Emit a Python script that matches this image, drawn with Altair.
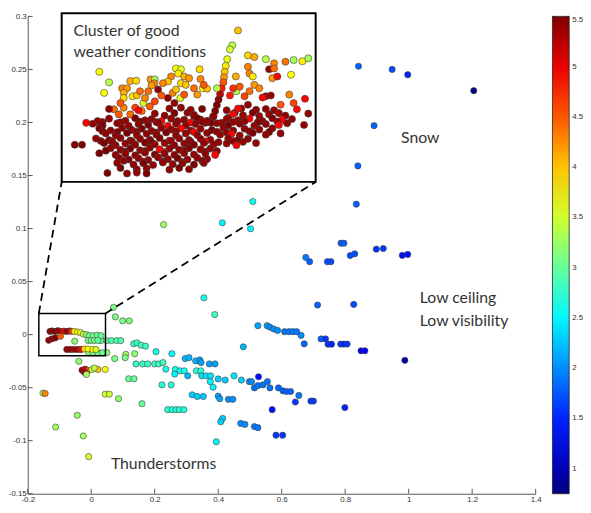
import altair as alt
import pandas as pd

# ---------------- main scatter (x, y, colour value) ----------------
main_x = [0.842, 0.948, 0.997, 1.205, 0.891, 0.840, 0.835, 0.787, 0.796, 0.816, 0.830, 0.898, 0.920, 0.980, 0.997,
          0.676, 0.688, 0.744, 0.755, 0.713, 0.827, 0.661, 0.671, 0.724, 0.738, 0.746, 0.757, 0.786, 0.796, 0.806,
          0.850, 0.862, 0.988, 0.654, 0.692, 0.700, 0.799,
          0.228, 0.509, 0.413, 0.502, 0.355, 0.389, 0.070, 0.076, 0.099, 0.120,
          0.525, 0.554, 0.563, 0.575, 0.587, 0.609, 0.623, 0.635, 0.647, 0.479,
          0.031, 0.049, 0.064, 0.080, 0.093, 0.134, 0.144, 0.157, 0.171, 0.204, 0.254, 0.109, 0.137, 0.049,
          0.074, 0.107, -0.039,
          0.141, 0.162, 0.178, 0.200, 0.212, 0.226, 0.235, 0.296, 0.308, 0.329, 0.342, 0.346, 0.372, 0.390,
          0.265, 0.280, 0.293, 0.304, 0.331, 0.345, 0.263, 0.348, 0.362, 0.376, 0.375, 0.384, 0.400, 0.422,
          0.450, 0.473, 0.498, 0.505, 0.527, 0.514, 0.525, 0.541, 0.555, 0.563, 0.590, 0.604, 0.615, 0.628,
          0.643, 0.318, 0.334, 0.353, 0.400, 0.405, 0.432, 0.446, 0.223, 0.252, 0.241, 0.255, 0.267, 0.278,
          0.292, 0.414, 0.408, 0.471, 0.484, 0.514, 0.525, 0.570, 0.582, 0.603, 0.394,
          0.118, 0.135, 0.160, 0.044, 0.057, 0.086, -0.044, -0.112, -0.025, -0.008, -0.152, -0.145,
          -0.029, -0.019, -0.010, -0.021, 0.002, 0.021, 0.044, -0.015, 0.010,
          -0.008, 0.005, 0.021, 0.035,
          -0.130, -0.124, -0.114, -0.105, -0.096, -0.086, -0.077, -0.068, -0.062, -0.053, -0.043, -0.034,
          -0.025, -0.015, -0.006, 0.006, 0.019, 0.031,
          -0.134, -0.124, -0.113, -0.097, -0.010, 0.000, 0.010, 0.021, -0.052,
          -0.077, -0.067, -0.057, -0.046, -0.036, -0.031, -0.021, -0.010, 0.005, 0.015]
main_y = [0.253, 0.250, 0.245, 0.230, 0.197, 0.159, 0.123, 0.0862, 0.0862, 0.0746, 0.0762, 0.0806, 0.0812, 0.0747, 0.0756,
          0.0728, 0.0688, 0.0688, 0.0688, 0.0279, 0.0285, -0.0007, -0.0087, -0.004, -0.004, -0.009, -0.009, -0.0089, -0.0089, -0.0089,
          -0.0152, -0.0152, -0.0242, -0.0573, -0.0626, -0.0626, -0.0688,
          0.1038, 0.1255, 0.1054, 0.0998, 0.0347, 0.0189, 0.0257, 0.0167, 0.013, 0.013,
          0.0084, 0.0084, 0.0071, 0.0053, 0.004, 0.0028, 0.0028, 0.0028, 0.0028, -0.0115,
          -0.0056, -0.0056, -0.0056, -0.0056, -0.0056, -0.0087, -0.0077, -0.0099, -0.0109, -0.0161, -0.018, -0.0186, -0.018, -0.017,
          -0.0226, -0.0217, -0.0251,
          -0.0276, -0.0276, -0.0276, -0.0276, -0.0276, -0.0263, -0.0325, -0.0226, -0.0217, -0.0248, -0.0239, -0.0263, -0.0276, -0.0276,
          -0.0328, -0.0341, -0.0341, -0.0388, -0.0341, -0.0341, -0.0372, -0.0388, -0.0388, -0.0388, -0.0443, -0.0496, -0.0418, -0.0428,
          -0.0388, -0.0428, -0.0443, -0.0443, -0.0397, -0.0502, -0.048, -0.0474, -0.0443, -0.0502, -0.0502, -0.053, -0.0536, -0.0536,
          -0.0635, -0.0567, -0.0583, -0.0583, -0.058, -0.0604, -0.061, -0.061, -0.0474, -0.0474, -0.0707, -0.0707, -0.0707, -0.0707,
          -0.0707, -0.079, -0.0821, -0.0837, -0.0846, -0.0867, -0.0877, -0.0707, -0.0948, -0.0948, -0.101,
          -0.0416, -0.0416, -0.0651, -0.0561, -0.0561, -0.0604, -0.076, -0.0871, -0.0955, -0.115, -0.0551, -0.0555,
          -0.0335, -0.0325, -0.0338, -0.0356, -0.0328, -0.0328, -0.0328, -0.0375, -0.0315,
          -0.017, -0.017, -0.017, -0.017,
          0.003, 0.0035, 0.003, 0.0037, 0.003, 0.0033, 0.003, 0.0035, 0.003, 0.003, 0.0025, 0.002,
          0.0005, 0.0, -0.001, -0.001, -0.0005, -0.001,
          -0.0053, -0.004, -0.0031, -0.0016, -0.0055, -0.0055, -0.0055, -0.0055, -0.0062,
          -0.014, -0.014, -0.014, -0.014, -0.014, -0.014, -0.0135, -0.0135, -0.014, -0.014]
main_c = [1.8, 1.7, 1.5, 0.8, 1.8, 1.8, 1.8, 1.8, 1.8, 1.7, 1.7, 1.6, 1.6, 1.4, 1.4,
          1.9, 1.8, 1.7, 1.7, 1.8, 1.7, 2.0, 1.8, 1.8, 1.6, 1.6, 1.5, 1.6, 1.5, 1.6,
          1.3, 1.3, 0.9, 1.9, 1.6, 1.6, 1.5,
          3.3, 2.6, 2.5, 2.5, 2.6, 2.8, 3.1, 3.1, 3.1, 3.1,
          2.1, 2.1, 2.0, 2.0, 2.0, 1.9, 1.9, 1.9, 1.9, 2.2,
          3.0, 3.0, 2.9, 2.9, 2.9, 2.8, 2.8, 2.8, 2.8, 2.6, 2.5, 3.3, 3.2, 3.2,
          3.1, 3.1, 3.2,
          2.8, 2.8, 2.8, 2.8, 2.8, 2.8, 2.6, 2.2, 2.2, 2.2, 2.1, 2.1, 2.1, 2.1,
          2.6, 2.6, 2.6, 2.2, 2.7, 2.7, 2.5, 2.4, 2.4, 2.4, 2.5, 2.5, 2.3, 2.3,
          2.4, 2.3, 2.0, 2.0, 1.4, 1.9, 1.9, 1.9, 1.9, 1.9, 1.8, 1.8, 1.8, 1.8,
          1.6, 2.3, 2.3, 2.3, 2.1, 2.1, 2.0, 2.0, 2.7, 2.7, 2.7, 2.7, 2.7, 2.7,
          2.7, 2.3, 2.3, 2.0, 2.0, 1.9, 1.9, 1.4, 1.6, 1.6, 2.5,
          3.0, 3.0, 3.0, 3.5, 3.5, 3.2, 3.2, 3.3, 3.3, 3.5, 3.3, 4.3,
          5.3, 5.1, 4.6, 5.4, 3.5, 4.0, 3.7, 3.3, 3.4,
          3.2, 3.1, 3.1, 3.0,
          5.4, 5.4, 5.5, 5.4, 5.3, 4.9, 5.4, 5.4, 4.7, 3.8, 3.7, 3.6,
          3.4, 3.2, 3.1, 3.1, 3.0, 3.0,
          5.4, 5.4, 5.5, 4.5, 3.1, 3.0, 3.1, 3.0, 3.2,
          5.4, 5.4, 5.3, 5.4, 5.2, 4.9, 3.8, 3.7, 3.7, 3.6]

# ---------------- magnified cluster (data coords inside the zoom box) ----------------
inset_x = [-0.0192, -0.0240, -0.0259, -0.0281, -0.0294, -0.0302, -0.0308, -0.0313, -0.0327, -0.0340, -0.0353,
           -0.0367, -0.0381, -0.0400, -0.0416,
           -0.0772, -0.0718, -0.0664, -0.0610, -0.0556, -0.0502, -0.0462,
           -0.0327, -0.0273, -0.0219, -0.0165, -0.0110,
           -0.1339, -0.1258, -0.1299, -0.1083, -0.1034, -0.0915, -0.0880, -0.0885, -0.0705, -0.0664, -0.0686,
           -0.0510, -0.0502, -0.0637, -0.0597, -0.0745, -0.0772, -0.0813, -0.0853, -0.0664, -0.0624, -0.0556,
           -0.0483, -0.0448, -0.0367, -0.1150, -0.1110, -0.1137, -0.1137, -0.1064, -0.1029, -0.0975, -0.1002,
           -0.0934, -0.0907, -0.0826, -0.0732, -0.0705, -0.0669, -0.0637, -0.0529, -0.1218, -0.1177, -0.1137,
           -0.1083, -0.1042, -0.0988, -0.0921, -0.0880, -0.1164, -0.0961,
           -0.0110, -0.0057, 0.0038, 0.0106, 0.0065, 0.0106, 0.0200, 0.0268, 0.0340, 0.0389, -0.0110, -0.0097,
           -0.0070, -0.0210, 0.0092, 0.0133, 0.0246, -0.0205, -0.0057, -0.0016, -0.0097, 0.0038, 0.0079, 0.0011,
           0.0232, 0.0362, 0.0268, 0.0160, 0.0389, 0.0354, -0.0178, -0.0138, -0.0259, -0.0232, -0.0475,
           -0.1447, -0.1339, -0.1312, -0.1542, -0.1482,
           -0.1258, -0.1015, -0.0759, -0.0583, -0.0489, -0.0286, -0.0192, -0.0043, 0.0038, 0.0106, 0.0295,
           -0.0880, -0.0799, -0.0718, -0.0556, -0.0394, -0.0232, -0.0151, -0.0070, -0.0016, 0.0065, 0.0146, 0.0200,
           -0.1258, -0.1123, -0.1042, -0.0961, -0.0907, -0.0826, -0.0745, -0.0637, -0.0529, -0.0448, -0.0286,
           -0.0192, -0.0097, 0.0011, 0.0092, 0.0173, 0.0254,
           -0.1353, -0.1164, -0.1002, -0.0867, -0.0691, -0.0583, -0.0489, -0.0232, -0.0138, -0.0030, 0.0133,
           -0.1393, -0.1312, -0.1191, -0.1096, -0.1015, -0.0934, -0.0853, -0.0772, -0.0705, -0.0624, -0.0543,
           -0.0367, -0.0273, -0.0178, -0.0057, 0.0038, 0.0146, 0.0214,
           -0.1339, -0.1245, -0.1150, -0.1069, -0.0988, -0.0907, -0.0826, -0.0745, -0.0664, -0.0583, -0.0502,
           -0.0408, -0.0313, -0.0232, -0.0138, -0.0016, 0.0092,
           -0.1312, -0.1191, -0.1029, -0.0867, -0.0705, -0.0556, -0.0367, -0.0286, -0.0097, 0.0065,
           -0.1285, -0.1204, -0.1110, -0.1029, -0.0948, -0.0867, -0.0786, -0.0705, -0.0624, -0.0529, -0.0448,
           -0.0340, -0.0246, -0.0178, -0.0070, 0.0038, 0.0160,
           -0.1366, -0.1258, -0.1164, -0.1083, -0.1002, -0.0921, -0.0840, -0.0759, -0.0678, -0.0597, -0.0502,
           -0.0421, -0.0273, -0.0192, -0.0110,
           -0.1326, -0.1231, -0.1069, -0.0907, -0.0745, -0.0583, -0.0462, -0.0354, -0.0232, -0.0151,
           -0.1299, -0.1204, -0.1123, -0.1042, -0.0961, -0.0880, -0.0799, -0.0718, -0.0637, -0.0556, -0.0475,
           -0.0394, -0.0286, -0.0205, -0.0043,
           -0.1245, -0.1164, -0.1083, -0.1002, -0.0921, -0.0840, -0.0759, -0.0678, -0.0597, -0.0502, -0.0421,
           -0.1285, -0.1123, -0.0961, -0.0799, -0.0637, -0.0462, -0.0367,
           -0.1339, -0.1204, -0.1123, -0.1042, -0.0961, -0.0880, -0.0799, -0.0718, -0.0637, -0.0556, -0.0462, -0.0381,
           -0.1177, -0.1096, -0.1015, -0.0934, -0.0853, -0.0772, -0.0691, -0.0610, -0.0529, -0.0448,
           -0.1137, -0.0975, -0.0813, -0.0651, -0.0489,
           -0.1191, -0.1056, -0.0975, -0.0894, -0.0813, -0.0732, -0.0651, -0.0556, -0.0475,
           -0.1164, -0.1029, -0.0948, -0.0759, -0.0678, -0.0597,
           -0.1272, -0.1110, -0.1029, -0.0948]
inset_y = [0.0159, 0.0124, 0.0114, 0.0091, 0.0075, 0.0061, 0.0048, 0.0036, 0.0022, 0.0008, -0.0005,
           -0.0018, -0.0032, -0.0046, -0.0060,
           -0.0001, -0.0013, -0.0024, -0.0036, -0.0044, -0.0052, -0.0060,
           -0.0060, -0.0048, -0.0036, -0.0026, -0.0017,
           0.0061, 0.0036, 0.0011, 0.0039, 0.0040, 0.0043, 0.0043, 0.0034, 0.0069, 0.0067, 0.0057,
           0.0067, 0.0044, 0.0050, 0.0046, 0.0050, 0.0038, 0.0034, 0.0019, 0.0034, 0.0030, 0.0022,
           0.0022, 0.0021, 0.0022, 0.0022, 0.0022, 0.0011, -0.0001, 0.0003, 0.0005, -0.0013, 0.0015,
           0.0015, 0.0029, 0.0005, 0.0011, 0.0019, -0.0001, 0.0007, 0.0007, -0.0028, -0.0040, -0.0024,
           -0.0040, -0.0024, -0.0032, -0.0021, -0.0009, -0.0013, -0.0001,
           0.0100, 0.0096, 0.0091, 0.0081, 0.0067, 0.0069, 0.0085, 0.0089, 0.0086, 0.0093, 0.0073, 0.0057,
           0.0050, 0.0050, 0.0046, 0.0050, 0.0054, 0.0015, 0.0030, 0.0022, 0.0015, 0.0003, 0.0005, 0.0000,
           0.0007, -0.0003, -0.0013, -0.0017, -0.0038, -0.0065, 0.0026, 0.0003, 0.0005, 0.0022, 0.0030,
           -0.0060, -0.0060, -0.0058, -0.0112, -0.0112,
           -0.0027, -0.0030, -0.0026, -0.0029, -0.0027, -0.0030, -0.0026, -0.0029, -0.0027, -0.0030, -0.0028,
           -0.0038, -0.0043, -0.0037, -0.0041, -0.0044, -0.0039, -0.0042, -0.0036, -0.0044, -0.0040, -0.0037, -0.0043,
           -0.0050, -0.0055, -0.0049, -0.0054, -0.0051, -0.0056, -0.0050, -0.0053, -0.0049, -0.0055, -0.0051,
           -0.0054, -0.0050, -0.0056, -0.0049, -0.0053, -0.0051,
           -0.0056, -0.0059, -0.0057, -0.0058, -0.0056, -0.0059, -0.0057, -0.0058, -0.0056, -0.0059, -0.0057,
           -0.0062, -0.0066, -0.0061, -0.0067, -0.0063, -0.0065, -0.0060, -0.0067, -0.0062, -0.0066, -0.0063,
           -0.0061, -0.0066, -0.0062, -0.0067, -0.0063, -0.0065, -0.0061,
           -0.0073, -0.0078, -0.0072, -0.0077, -0.0074, -0.0079, -0.0072, -0.0076, -0.0073, -0.0078, -0.0074,
           -0.0077, -0.0072, -0.0078, -0.0074, -0.0076, -0.0073,
           -0.0080, -0.0082, -0.0081, -0.0083, -0.0080, -0.0082, -0.0081, -0.0083, -0.0080, -0.0082,
           -0.0085, -0.0090, -0.0084, -0.0089, -0.0086, -0.0088, -0.0083, -0.0090, -0.0085, -0.0089, -0.0084,
           -0.0088, -0.0086, -0.0090, -0.0084, -0.0088, -0.0085,
           -0.0097, -0.0101, -0.0096, -0.0102, -0.0098, -0.0100, -0.0096, -0.0102, -0.0097, -0.0101, -0.0098,
           -0.0100, -0.0097, -0.0101, -0.0098,
           -0.0103, -0.0105, -0.0104, -0.0106, -0.0103, -0.0105, -0.0104, -0.0106, -0.0103, -0.0105,
           -0.0108, -0.0113, -0.0109, -0.0112, -0.0107, -0.0111, -0.0108, -0.0113, -0.0109, -0.0112, -0.0108,
           -0.0111, -0.0109, -0.0113, -0.0108,
           -0.0120, -0.0124, -0.0121, -0.0125, -0.0119, -0.0123, -0.0121, -0.0124, -0.0120, -0.0123, -0.0121,
           -0.0126, -0.0128, -0.0127, -0.0129, -0.0126, -0.0128, -0.0127,
           -0.0132, -0.0136, -0.0133, -0.0137, -0.0131, -0.0135, -0.0133, -0.0136, -0.0132, -0.0135, -0.0133, -0.0136,
           -0.0143, -0.0147, -0.0144, -0.0148, -0.0142, -0.0146, -0.0144, -0.0147, -0.0143, -0.0146,
           -0.0150, -0.0152, -0.0151, -0.0153, -0.0150,
           -0.0155, -0.0159, -0.0156, -0.0160, -0.0154, -0.0158, -0.0156, -0.0159, -0.0155,
           -0.0167, -0.0170, -0.0168, -0.0171, -0.0167, -0.0170,
           -0.0179, -0.0180, -0.0178, -0.0180]
inset_c = [4.0, 3.4, 3.5, 3.6, 3.8, 4.0, 4.2, 4.5, 4.8, 5.2, 5.4,
           5.5, 5.5, 5.5, 5.5,
           5.4, 5.4, 5.4, 5.4, 5.4, 5.4, 5.4,
           5.4, 5.4, 5.4, 5.4, 5.4,
           3.7, 3.4, 3.7, 4.1, 3.9, 4.2, 3.3, 4.3, 3.7, 3.6, 3.8,
           3.9, 4.3, 4.1, 4.2, 4.3, 4.0, 4.3, 5.4, 3.9, 4.0, 4.4,
           3.7, 4.0, 3.4, 4.3, 4.2, 4.1, 3.9, 3.8, 4.0, 3.5, 4.4,
           4.4, 4.2, 4.5, 4.3, 4.0, 3.6, 4.5, 4.2, 4.4, 4.5, 4.3,
           4.4, 4.6, 4.4, 4.5, 4.6, 4.5, 4.3,
           3.9, 4.1, 3.4, 4.3, 5.4, 4.4, 4.4, 3.3, 3.8, 3.3, 4.3, 4.3,
           3.8, 4.1, 4.2, 4.9, 3.7, 3.4, 4.2, 4.3, 4.4, 5.4, 5.4, 4.9,
           4.3, 4.9, 4.6, 4.5, 5.4, 5.4, 4.5, 4.6, 4.8, 4.7, 4.5,
           4.9, 5.4, 5.4, 5.5, 5.5,
           5.4, 4.9, 5.4, 5.4, 5.5, 5.4, 4.9, 5.4, 5.4, 5.4, 4.9,
           5.4, 5.4, 5.5, 5.4, 5.4, 4.9, 5.4, 5.5, 5.4, 5.4, 5.3, 5.4,
           5.4, 5.4, 5.5, 5.4, 5.4, 4.9, 5.4, 5.4, 5.5, 5.4, 5.4,
           5.4, 4.9, 5.4, 5.5, 4.9, 5.4,
           5.4, 5.4, 5.5, 5.4, 5.4, 4.9, 5.4, 5.4, 5.4, 5.5, 5.4,
           5.4, 5.5, 5.4, 5.4, 5.4, 5.5, 5.4, 4.9, 5.4, 5.4, 5.4,
           5.4, 5.5, 5.4, 5.4, 5.4, 4.9, 5.4,
           5.5, 5.4, 5.4, 5.4, 5.5, 5.4, 5.4, 5.4, 4.9, 5.4, 5.4,
           5.5, 5.4, 5.4, 5.4, 5.4, 5.4,
           5.4, 5.5, 5.4, 5.4, 5.4, 4.9, 5.4, 5.4, 5.4, 5.5,
           5.4, 5.4, 5.5, 5.4, 5.4, 5.4, 5.5, 5.4, 5.4, 5.4, 5.4,
           5.4, 4.9, 5.4, 5.5, 5.4, 5.4,
           5.4, 5.5, 5.4, 5.4, 5.4, 5.4, 5.5, 4.9, 5.4, 5.4, 5.4,
           5.4, 5.4, 5.5, 5.4,
           5.4, 5.4, 5.4, 5.5, 5.4, 5.4, 4.9, 5.4, 5.4, 5.4,
           5.5, 5.4, 5.4, 5.4, 5.5, 5.4, 5.4, 5.4, 5.4, 5.5, 5.4,
           5.4, 5.4, 4.9, 5.4,
           5.4, 5.4, 5.5, 5.4, 5.4, 4.9, 5.4, 5.4, 5.5, 5.4, 5.4,
           5.5, 5.4, 5.4, 4.9, 5.4, 5.4, 5.4,
           5.5, 5.4, 5.4, 5.4, 5.4, 5.5, 5.4, 5.4, 5.4, 5.4, 5.4, 4.9,
           5.4, 5.5, 5.4, 5.4, 5.4, 5.4, 5.5, 5.4, 5.4, 5.4,
           5.4, 5.4, 5.5, 5.4, 5.4,
           5.4, 5.4, 5.5, 5.4, 5.4, 5.4, 5.4, 5.5, 5.4,
           5.5, 5.4, 5.4, 5.4, 5.5, 5.4,
           5.5, 5.4, 5.4, 5.5]

# zoom box (data coords) and where the magnified frame sits (data coords)
box_x = [-0.165, 0.045]
box_y = [-0.02, 0.02]
frame_x = [-0.093, 0.707]
frame_y = [0.144, 0.303]

x_domain = [-0.2, 1.4]
y_domain = [-0.15, 0.3]
x_ticks = [-0.2, 0, 0.2, 0.4, 0.6, 0.8, 1, 1.2, 1.4]
y_ticks = [-0.15, -0.1, -0.05, 0, 0.05, 0.1, 0.15, 0.2, 0.25, 0.3]
c_ticks = [1, 1.5, 2, 2.5, 3, 3.5, 4, 4.5, 5, 5.5]
c_extent = [0.75, 5.5]

labels_text = ["Snow", "Low ceiling", "Low visibility", "Thunderstorms", "Cluster of good", "weather conditions"]
labels_x = [0.976, 1.035, 1.035, 0.062, -0.0556, -0.0556]
labels_y = [0.185, 0.0344, 0.013, -0.1218, 0.2863, 0.2668]

W, H = 515, 484
BAR_OFF, BAR_W = 17, 17

# ---------------- tables ----------------
main_df = pd.DataFrame({"x": main_x, "y": main_y, "c": main_c})
sx = (frame_x[1] - frame_x[0]) / (box_x[1] - box_x[0])
sy = (frame_y[1] - frame_y[0]) / (box_y[1] - box_y[0])
inset_df = pd.DataFrame({
    "x": [frame_x[0] + (v - box_x[0]) * sx for v in inset_x],
    "y": [frame_y[0] + (v - box_y[0]) * sy for v in inset_y],
    "c": inset_c,
})
rect_df = pd.DataFrame({"x": [box_x[0], frame_x[0]], "x2": [box_x[1], frame_x[1]],
                        "y": [box_y[0], frame_y[0]], "y2": [box_y[1], frame_y[1]],
                        "kind": ["box", "frame"]})
link_df = pd.DataFrame({"x": [box_x[0], box_x[1]], "y": [box_y[1], box_y[1]],
                        "x2": [frame_x[0], frame_x[1]], "y2": [frame_y[0], frame_y[0]]})
text_df = pd.DataFrame({"t": labels_text, "x": labels_x, "y": labels_y})
xt_df = pd.DataFrame({"x": x_ticks})
yt_df = pd.DataFrame({"y": y_ticks})
# colourbar spans the full plot height: express its tick values on the y scale
ct_df = pd.DataFrame({"y": [y_domain[0] + (v - c_extent[0]) / (c_extent[1] - c_extent[0]) * (y_domain[1] - y_domain[0])
                            for v in c_ticks]})

jet_domain = [0.75, 1.344, 2.531, 3.719, 4.906, 5.5]
jet_range = ["#00007f", "#0000ff", "#00ffff", "#ffff00", "#ff0000", "#7f0000"]
cscale = alt.Scale(domain=jet_domain, range=jet_range, interpolate="rgb")

xscale = alt.Scale(domain=x_domain, nice=False, zero=False)
yscale = alt.Scale(domain=y_domain, nice=False, zero=False)

axis_common = dict(title=None, grid=False, ticks=False, labelFontSize=8, labelFont="Liberation Sans",
                   labelColor="#333333", domainColor="#555555", labelFlush=False, labelPadding=1.5,
                   labelExpr="'' + datum.value")

X = alt.X("x:Q", scale=xscale, axis=alt.Axis(values=x_ticks, orient="bottom", **axis_common))
Y = alt.Y("y:Q", scale=yscale, axis=alt.Axis(values=y_ticks, orient="left", **axis_common))
Xn = alt.X("x:Q", scale=xscale, axis=None)
Yn = alt.Y("y:Q", scale=yscale, axis=None)

legend = alt.Legend(title=None, orient="right", offset=BAR_OFF, gradientLength=H, gradientThickness=BAR_W,
                    values=c_ticks, labelFontSize=8, labelFont="Liberation Sans", labelColor="#333333",
                    gradientStrokeColor="#222222", gradientStrokeWidth=0.8, labelOffset=3, padding=0,
                    direction="vertical", labelOverlap=False, labelExpr="'' + datum.value")

pts_main = alt.Chart(main_df).mark_circle(size=40, opacity=1, stroke="#404040", strokeWidth=0.6).encode(
    x=X, y=Y, color=alt.Color("c:Q", scale=cscale, legend=legend))

# inward tick marks (MATLAB style)
xticks_layer = alt.Chart(xt_df).mark_rule(color="#555555", strokeWidth=1).encode(
    x=Xn, y=alt.value(H - 5), y2=alt.value(H))
yticks_layer = alt.Chart(yt_df).mark_rule(color="#555555", strokeWidth=1).encode(
    y=Yn, x=alt.value(0), x2=alt.value(5))
cb_ticks_l = alt.Chart(ct_df).mark_rule(color="#333333", strokeWidth=0.8).encode(
    y=Yn, x=alt.value(W + BAR_OFF), x2=alt.value(W + BAR_OFF + 3))
cb_ticks_r = alt.Chart(ct_df).mark_rule(color="#333333", strokeWidth=0.8).encode(
    y=Yn, x=alt.value(W + BAR_OFF + BAR_W - 3), x2=alt.value(W + BAR_OFF + BAR_W))

box_layer = alt.Chart(rect_df).transform_filter(alt.datum.kind == "box").mark_rect(
    fill=None, stroke="black", strokeWidth=1.5).encode(x=Xn, x2="x2", y=Yn, y2="y2")
frame_layer = alt.Chart(rect_df).transform_filter(alt.datum.kind == "frame").mark_rect(
    fill="white", stroke="black", strokeWidth=2).encode(x=Xn, x2="x2", y=Yn, y2="y2")
link_layer = alt.Chart(link_df).mark_rule(color="black", strokeWidth=1.8, strokeDash=[8, 5]).encode(
    x=Xn, y=Yn, x2="x2", y2="y2")

pts_inset = alt.Chart(inset_df).mark_circle(size=52, opacity=1, stroke="#404040", strokeWidth=0.6).encode(
    x=Xn, y=Yn, color=alt.Color("c:Q", scale=cscale, legend=legend))

text_layer = alt.Chart(text_df).mark_text(align="left", baseline="middle", font="Lato", fontSize=16,
                                          color="#333333").encode(x=Xn, y=Yn, text="t:N")

chart = alt.layer(pts_main, xticks_layer, yticks_layer, box_layer, link_layer, frame_layer, pts_inset,
                  text_layer, cb_ticks_l, cb_ticks_r).resolve_axis(
    x="independent", y="independent"
).properties(
    width=W, height=H,
    padding={"left": 20, "top": 5, "right": 48, "bottom": 16},
    autosize=alt.AutoSizeParams(type="none"),
).configure_view(stroke=None)

chart.save("out.html", embed_options={"renderer": "svg", "actions": False})
